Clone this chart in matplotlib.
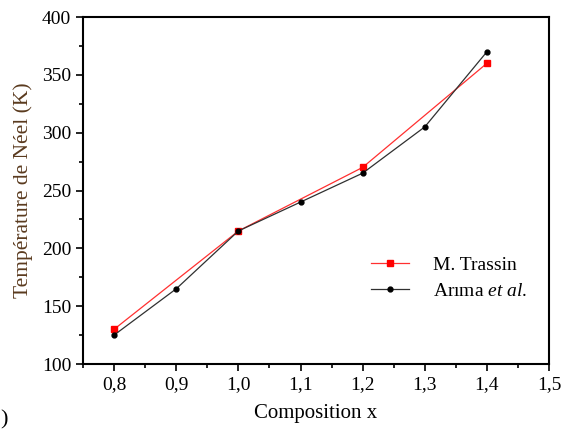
import matplotlib
matplotlib.use("Agg")
import matplotlib.pyplot as plt
from matplotlib.ticker import MultipleLocator

plt.rcParams['font.family'] = ['Liberation Serif', 'DejaVu Serif']
plt.rcParams['mathtext.fontset'] = 'custom'
plt.rcParams['mathtext.rm'] = 'Liberation Serif'
plt.rcParams['mathtext.it'] = 'Liberation Serif:italic'

trassin_x = [0.8, 1.0, 1.2, 1.4]
trassin_y = [130, 215, 270, 360]
arima_x = [0.8, 0.9, 1.0, 1.1, 1.2, 1.3, 1.4]
arima_y = [125, 165, 215, 240, 265, 305, 370]
xticks = [0.8, 0.9, 1.0, 1.1, 1.2, 1.3, 1.4, 1.5]
xticklabels = ['0,8', '0,9', '1,0', '1,1', '1,2', '1,3', '1,4', '1,5']

fig = plt.figure(figsize=(5.62, 4.32), dpi=100)
ax = fig.add_axes([0.1477, 0.1574, 0.8293, 0.8032])

ax.plot(trassin_x, trassin_y, color='#ff3030', lw=0.9, marker='s', ms=4,
        mfc='red', mec='red', label='M. Trassin')
ax.plot(arima_x, arima_y, color='#303030', lw=0.9, marker='o', ms=3.5,
        mfc='black', mec='black', label='Arıma $\\it{et\\ al.}$')

ax.set_xlim(0.75, 1.5)
ax.set_ylim(100, 400)
ax.set_xticks(xticks)
ax.set_xticklabels(xticklabels)
ax.xaxis.set_minor_locator(MultipleLocator(0.05))
ax.yaxis.set_major_locator(MultipleLocator(50))
ax.yaxis.set_minor_locator(MultipleLocator(25))
ax.tick_params(which='major', direction='out', length=5, width=1.2, labelsize=14, colors='black')
ax.tick_params(which='minor', direction='out', length=3, width=1.2)
for s in ax.spines.values():
    s.set_linewidth(1.5)

ax.set_xlabel('Composition x', fontsize=15, labelpad=8)
ax.set_ylabel('Température de Néel (K)', fontsize=15.5, color='#5a3a1e', labelpad=6)

leg = ax.legend(loc='lower right', bbox_to_anchor=(0.99, 0.135), frameon=False,
                fontsize=14, handlelength=2.0, handletextpad=1.2, labelspacing=0.4)

fig.text(0.0, 0.005, ')', fontsize=16, ha='left', va='bottom')

fig.savefig('out.png', dpi=100)
